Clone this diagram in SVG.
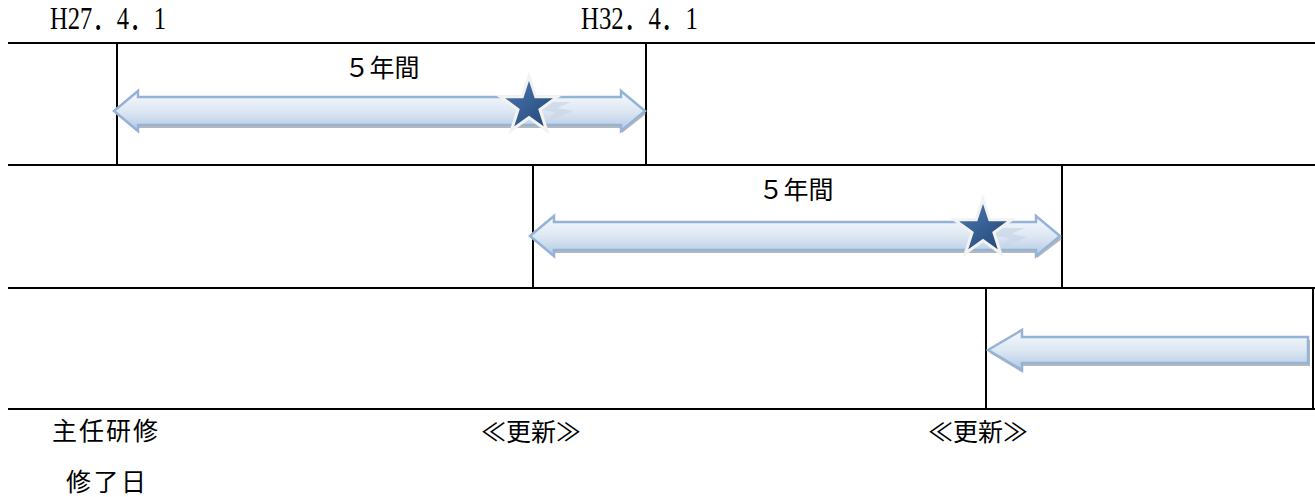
<svg xmlns="http://www.w3.org/2000/svg" width="1315" height="497" viewBox="0 0 1315 497">
<style>
.ln{stroke:#000;stroke-width:2;fill:none}
.arr{fill:url(#ag);stroke:#95b3d7;stroke-width:2.5;stroke-linejoin:miter}
.sh{fill:#a6a6a6;opacity:0.8}
.star{fill:url(#sg);stroke:#f2f2f2;stroke-width:3;stroke-linejoin:miter}
.refl{fill:#c9d6e6;opacity:0.7}
.lat{font-family:"Liberation Serif","Noto Sans CJK JP",serif;font-size:31px;fill:#000}
.cjk{font-family:"Noto Sans CJK JP",sans-serif;font-size:25px;fill:#000}
</style>
<defs>
<linearGradient id="ag" x1="0" y1="0" x2="0" y2="1">
<stop offset="0" stop-color="#f8fafd"/>
<stop offset="0.5" stop-color="#dde7f3"/>
<stop offset="1" stop-color="#b3c9e4"/>
</linearGradient>
<linearGradient id="sg" x1="0" y1="0" x2="1" y2="1">
<stop offset="0" stop-color="#4f7fb9"/>
<stop offset="1" stop-color="#1f406e"/>
</linearGradient>
<polygon id="starShape" points="0,-30 6.76,-9.30 28.53,-9.27 10.94,3.55 17.63,24.27 0,11.5 -17.63,24.27 -10.94,3.55 -28.53,-9.27 -6.76,-9.30"/>
<polygon id="reflShape" points="14,-6 42,-6 28,0 44,3 18,14 26,4 12,2"/>
</defs>

<g id="grid">
<line class="ln" x1="8" y1="43" x2="1315" y2="43"/>
<line class="ln" x1="8" y1="165" x2="1315" y2="165"/>
<line class="ln" x1="8" y1="288" x2="1315" y2="288"/>
<line class="ln" x1="8" y1="409" x2="1315" y2="409"/>
</g>

<g id="period1">
<line class="ln" x1="117" y1="43" x2="117" y2="165"/>
<line class="ln" x1="646" y1="43" x2="646" y2="165"/>
<path class="sh" d="M116,114 L139,95 L139,100 L622,100 L622,95 L646,114 L622,133 L622,128 L139,128 L139,133 Z"/>
<path class="arr" d="M114,111 L138,91 L138,97 L621,97 L621,91 L645,111 L621,131 L621,125 L138,125 L138,131 Z"/>
<use href="#reflShape" class="refl" x="529" y="108"/>
<use href="#starShape" class="star" x="529" y="106"/>
<text class="cjk" x="382" y="77" text-anchor="middle">５年間</text>
</g>

<g id="period2">
<line class="ln" x1="533" y1="165" x2="533" y2="288"/>
<line class="ln" x1="1062" y1="165" x2="1062" y2="288"/>
<path class="sh" d="M532,239 L555,220 L555,225 L1037,225 L1037,220 L1062,239 L1037,258 L1037,253 L555,253 L555,258 Z"/>
<path class="arr" d="M530,236 L554,216 L554,222 L1036,222 L1036,216 L1060,236 L1036,256 L1036,250 L554,250 L554,256 Z"/>
<use href="#reflShape" class="refl" x="983" y="234"/>
<use href="#starShape" class="star" x="983" y="229"/>
<text class="cjk" x="796" y="199" text-anchor="middle">５年間</text>
</g>

<g id="period3">
<line class="ln" x1="986" y1="288" x2="986" y2="409"/>
<line class="ln" x1="1313" y1="288" x2="1313" y2="409"/>
<path class="sh" d="M990,353 L1023,333 L1023,340 L1310,340 L1310,366 L1023,366 L1023,373 Z"/>
<path class="arr" d="M988,350 L1022,330 L1022,337 L1308,337 L1308,363 L1022,363 L1022,370 Z"/>
</g>

<g id="labels">
<text class="lat" x="50" y="29" textLength="116" lengthAdjust="spacingAndGlyphs">H27．4．1</text>
<text class="lat" x="581" y="29" textLength="117" lengthAdjust="spacingAndGlyphs">H32．4．1</text>
<text class="cjk" x="52" y="440" font-size="26" textLength="106" lengthAdjust="spacing">主任研修</text>
<text class="cjk" x="66" y="491" font-size="26" textLength="80" lengthAdjust="spacing">修了日</text>
<text class="cjk" x="531" y="441" text-anchor="middle" font-size="26">≪更新≫</text>
<text class="cjk" x="978" y="441" text-anchor="middle" font-size="26">≪更新≫</text>
</g>
</svg>
